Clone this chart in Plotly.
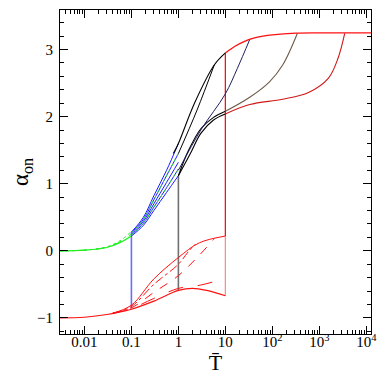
import plotly.graph_objects as go

# ---------------- data (T values, alpha_on values) ----------------
# lower family (starts at -1)
L0_T = [0.003, 0.01, 0.03, 0.1, 0.3, 1, 2, 4, 10]
L0_a = [-1.0, -0.99, -0.95, -0.87, -0.75, -0.59, -0.56, -0.59, -0.67]
L1_T = [0.04, 0.1, 0.3, 1, 3, 10]
L1_a = [-0.93, -0.86, -0.71, -0.56, -0.51, -0.41]
L2_T = [0.04, 0.1, 0.3, 1, 2.5, 5.8]
L2_a = [-0.93, -0.85, -0.62, -0.37, -0.1, 0.18]
L3_T = [0.04, 0.1, 0.3, 1, 1.6, 2.3]
L3_a = [-0.93, -0.83, -0.5, -0.2, -0.02, 0.1]
L4_T = [0.04, 0.1, 0.3, 1, 2.8, 10]
L4_a = [-0.93, -0.81, -0.42, -0.1, 0.12, 0.22]

# upper family (starts at 0)
G_T = [0.003, 0.01, 0.03, 0.06, 0.1]
G1_a = [0.0, 0.01, 0.05, 0.13, 0.22]
G2_a = [0.0, 0.01, 0.055, 0.14, 0.25]
G3_a = [0.0, 0.01, 0.06, 0.16, 0.29]

B_T = [0.1, 0.18, 0.3, 0.56, 1]
B1_a = [0.22, 0.38, 0.6, 0.87, 1.12]
B2_a = [0.24, 0.41, 0.65, 0.94, 1.22]
B3_a = [0.25, 0.44, 0.7, 1.02, 1.32]
B4_a = [0.27, 0.47, 0.76, 1.12, 1.45]
B5_a = [0.28, 0.5, 0.82, 1.2, 1.6]

K1_T = [1, 1.8, 3, 5.6, 10]
K1_a = [1.12, 1.45, 1.75, 1.95, 2.04]
K2_T = [1, 1.6, 3, 5.6, 10]
K2_a = [1.12, 1.48, 1.82, 1.99, 2.08]
K3_T = [1, 3, 10, 18, 33]
K3_a = [1.2, 1.8, 2.34, 2.72, 3.15]
K4_T = [1, 2.5, 5.8]
K4_a = [1.45, 2.1, 2.77]
K5_T = [0.78, 1, 2.2, 5.8, 10]
K5_a = [1.45, 1.6, 2.2, 2.77, 2.95]

RM_T = [10, 33, 87, 166, 340]
RM_a = [2.08, 2.29, 2.52, 2.77, 3.24]
RL_T = [10, 33, 166, 590, 1550, 2500, 3470]
RL_a = [2.04, 2.18, 2.26, 2.36, 2.57, 2.87, 3.24]
RT_T = [10, 16, 25, 40, 63, 100, 316, 1000, 12600]
RT_a = [2.95, 3.05, 3.12, 3.17, 3.2, 3.22, 3.245, 3.25, 3.25]

# vertical jumps
V1_T = [0.1, 0.1]
V1_a = [-0.86, 0.28]
V2_T = [1, 1]
V2_a = [-0.59, 1.12]
V3a_T = [10, 10]
V3a_a = [-0.67, 0.22]
V3b_T = [10, 10]
V3b_a = [0.22, 2.95]

x_tickvals = [0.01, 0.1, 1, 10, 100, 1000, 10000]
x_ticktext = ['0.01', '0.1', '1', '10', '10<sup>2</sup>', '10<sup>3</sup>', '10<sup>4</sup>']
y_tickvals = [-1, 0, 1, 2, 3]
y_ticktext = ['\u22121', '0', '1', '2', '3']

RED = '#ff1010'
GREEN = '#22ee22'
BLUE = '#1a1aff'

fig = go.Figure()


def add(x, y, color, dash='solid', width=1.0, spline=True):
    fig.add_trace(go.Scatter(x=x, y=y, mode='lines',
                             line=dict(color=color, width=width, dash=dash,
                                       shape='spline' if spline else 'linear',
                                       smoothing=1.0),
                             showlegend=False, hoverinfo='skip'))


# vertical jumps
add(V1_T, V1_a, '#6a6aff', width=1.6, spline=False)
add(V2_T, V2_a, '#707070', width=1.6, spline=False)
add(V3a_T, V3a_a, '#ff8c8c', width=1.3, spline=False)
add(V3b_T, V3b_a, RED, width=1.3, spline=False)

# lower family
add(L0_T, L0_a, RED, width=1.1)
add(L1_T, L1_a, RED, dash='longdash', width=1.0)
add(L2_T, L2_a, RED, dash='dash', width=1.0)
add(L3_T, L3_a, RED, dash='dashdot', width=1.0)
add(L4_T, L4_a, RED, width=1.0)

# green
add(G_T, G1_a, GREEN, width=1.2)
add(G_T, G2_a, GREEN, dash='dash', width=1.0)
add(G_T, G3_a, GREEN, dash='dot', width=1.0)

# blue
for a in (B1_a, B2_a, B3_a, B4_a, B5_a):
    add(B_T, a, BLUE, width=1.0)
add(B_T, B2_a, GREEN, dash='dot', width=1.0)
add(B_T, B4_a, GREEN, dash='dot', width=1.0)

# black
add(K1_T, K1_a, 'black', width=1.1)
add(K2_T, K2_a, 'black', width=1.1)
add(K3_T, K3_a, '#202060', width=1.0)
add(K4_T, K4_a, 'black', width=1.0)
add(K5_T, K5_a, 'black', width=1.1)

# red (high T)
add(RM_T, RM_a, '#6e5a48', width=1.1)
add(RL_T, RL_a, '#d01818', width=1.1)
add(RT_T, RT_a, RED, width=1.3)

minor_x = [m * 10 ** d for d in range(-3, 5) for m in range(2, 10)]

axis_font = dict(family='Liberation Serif, DejaVu Serif, serif', size=15, color='black')

# the page body adds an 8px offset, so the figure is smaller and margins are shifted
fig.update_layout(
    width=370, height=370,
    margin=dict(l=52, r=1, t=2, b=44),
    paper_bgcolor='white', plot_bgcolor='white',
    font=axis_font,
    xaxis=dict(type='log', range=[-2.52, 4.1],
               tickmode='array', tickvals=x_tickvals, ticktext=x_ticktext,
               ticks='inside', ticklen=8, tickwidth=1, tickcolor='black',
               minor=dict(ticks='inside', ticklen=4, tickwidth=1, tickcolor='black',
                          tickmode='array', tickvals=minor_x),
               showline=True, linecolor='black', linewidth=1.2, mirror='ticks',
               showgrid=False, zeroline=False, ticklabeloverflow='allow',
               ticklabelstandoff=-6,
               title=dict(text='T\u0304', font=dict(family='Liberation Serif, serif', size=22), standoff=0),
               tickfont=axis_font),
    yaxis=dict(range=[-1.24, 3.59],
               ticks='inside', ticklen=8, tickwidth=1, tickcolor='black',
               minor=dict(ticks='inside', ticklen=4, tick0=0, dtick=0.2, tickwidth=1, tickcolor='black'),
               showline=True, linecolor='black', linewidth=1.2, mirror='ticks',
               showgrid=False, zeroline=False,
               tickmode='array', tickvals=y_tickvals, ticktext=y_ticktext,
               ticklabelstandoff=3,
               title=dict(text='\u03b1<sub>on</sub>', font=dict(family='Liberation Serif, serif', size=23), standoff=4),
               tickfont=axis_font),
)

fig.write_html('out.html')
